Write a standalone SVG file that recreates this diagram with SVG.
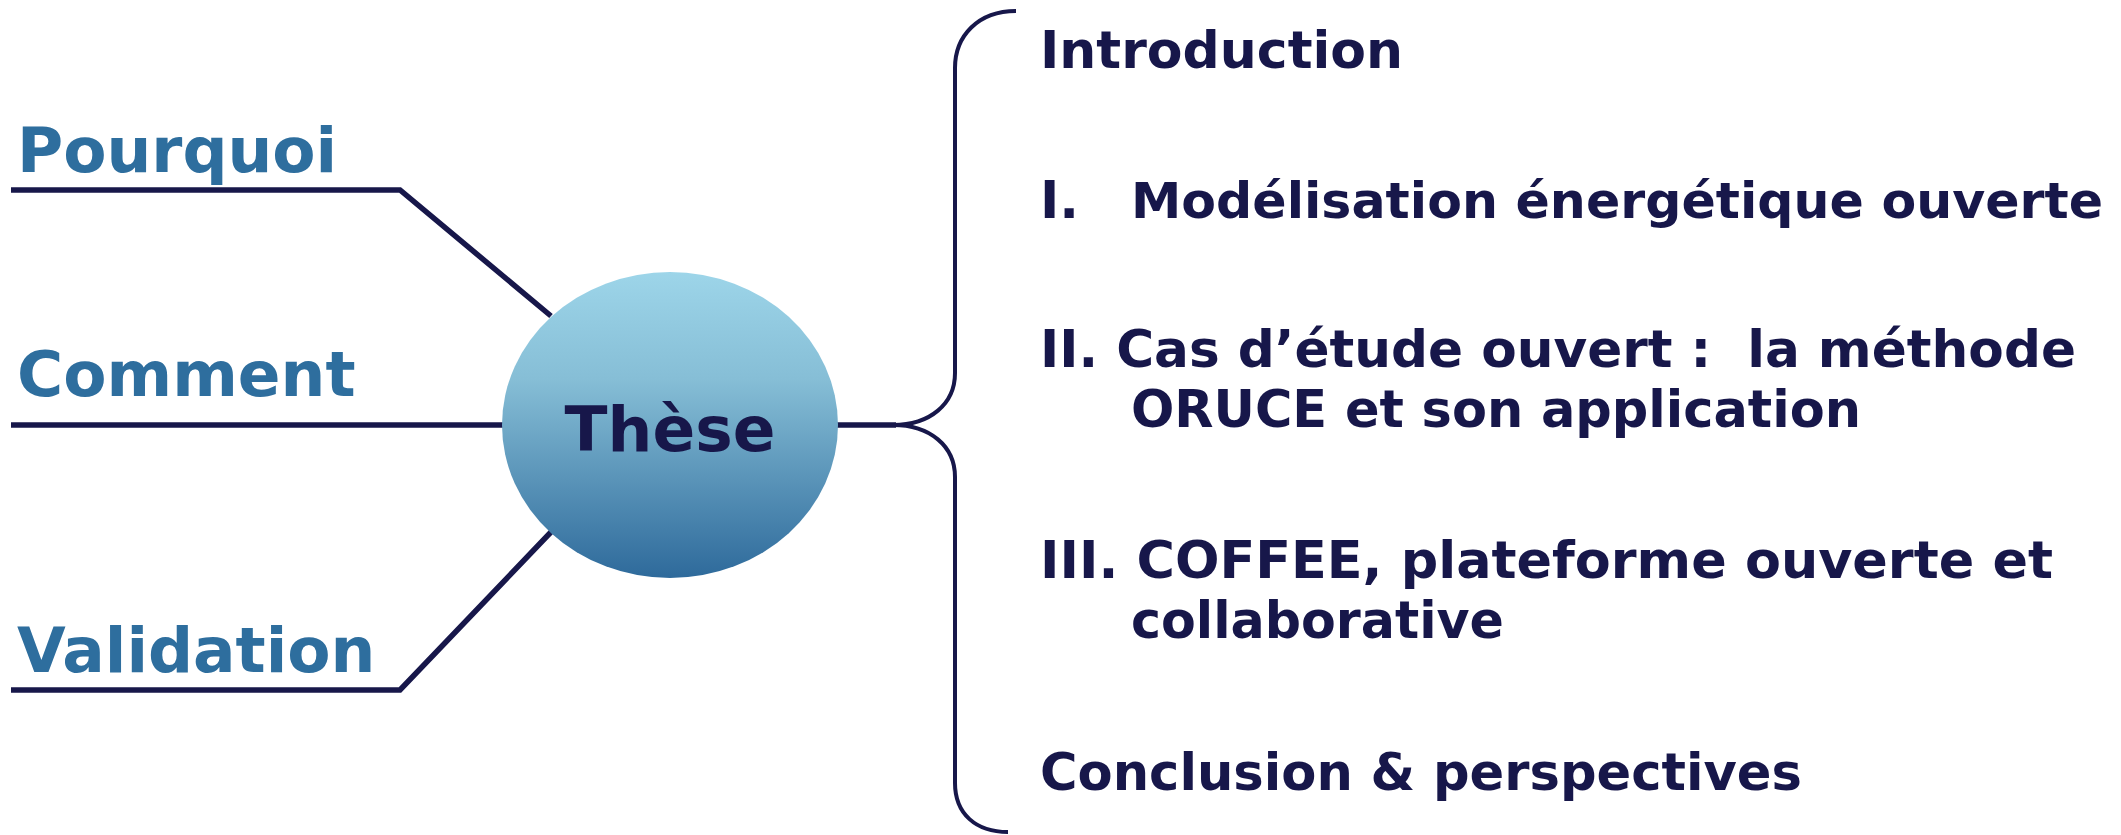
<svg xmlns="http://www.w3.org/2000/svg" width="2121" height="835" viewBox="0 0 2121 835">
<defs>
<linearGradient id="g" x1="0" y1="0" x2="0" y2="1">
<stop offset="0" stop-color="#9DD5E9"/>
<stop offset="0.35" stop-color="#86BED6"/>
<stop offset="1" stop-color="#2E6A9B"/>
</linearGradient>
<style>
.ln{fill:none;stroke:#17174A;stroke-width:5.5}
.br{fill:none;stroke:#17174A;stroke-width:4}
.lt{font-family:"DejaVu Sans",Verdana,sans-serif;font-weight:bold;font-size:63px;fill:#2E6E9E}
.rt{font-family:"DejaVu Sans",Verdana,sans-serif;font-weight:bold;font-size:52px;fill:#17174A}
.ct{font-family:"DejaVu Sans",Verdana,sans-serif;font-weight:bold;font-size:63px;fill:#17174A}
</style>
</defs>
<rect width="2121" height="835" fill="#ffffff"/>
<g id="connectors">
<path class="ln" d="M11,190 L400,190 L551,316"/>
<path class="ln" d="M11,425 L503,425"/>
<path class="ln" d="M11,690 L400,690 L551,532"/>
<path class="ln" d="M837,425 L896,425"/>
<path class="br" d="M1016,11 C978,11 955,36 955,68 L955,373 C955,404 930,425 893,425 C930,425 955,446 955,477 L955,783 C955,814 976,832 1008,832"/>
</g>
<g id="pourquoi"><text class="lt" x="17" y="172">Pourquoi</text></g>
<g id="comment"><text class="lt" x="17" y="396">Comment</text></g>
<g id="validation"><text class="lt" x="17" y="672">Validation</text></g>
<g id="these">
<ellipse cx="670" cy="425" rx="168" ry="153" fill="url(#g)"/>
<text class="ct" x="670" y="451" text-anchor="middle">Thèse</text>
</g>
<g id="introduction"><text class="rt" x="1040" y="68">Introduction</text></g>
<g id="partie1"><text class="rt" x="1040" y="218">I.</text><text class="rt" x="1131" y="218" style="font-size:50px" textLength="972" lengthAdjust="spacingAndGlyphs">Modélisation énergétique ouverte</text></g>
<g id="partie2"><text class="rt" x="1040" y="367" textLength="1036" lengthAdjust="spacingAndGlyphs" xml:space="preserve">II. Cas d’étude ouvert :  la méthode</text><text class="rt" x="1131" y="427" textLength="730" lengthAdjust="spacingAndGlyphs">ORUCE et son application</text></g>
<g id="partie3"><text class="rt" x="1040" y="578" textLength="1013" lengthAdjust="spacingAndGlyphs">III. COFFEE, plateforme ouverte et</text><text class="rt" x="1131" y="638" textLength="373" lengthAdjust="spacingAndGlyphs">collaborative</text></g>
<g id="conclusion"><text class="rt" x="1040" y="790" textLength="762" lengthAdjust="spacingAndGlyphs">Conclusion &amp; perspectives</text></g>
</svg>
